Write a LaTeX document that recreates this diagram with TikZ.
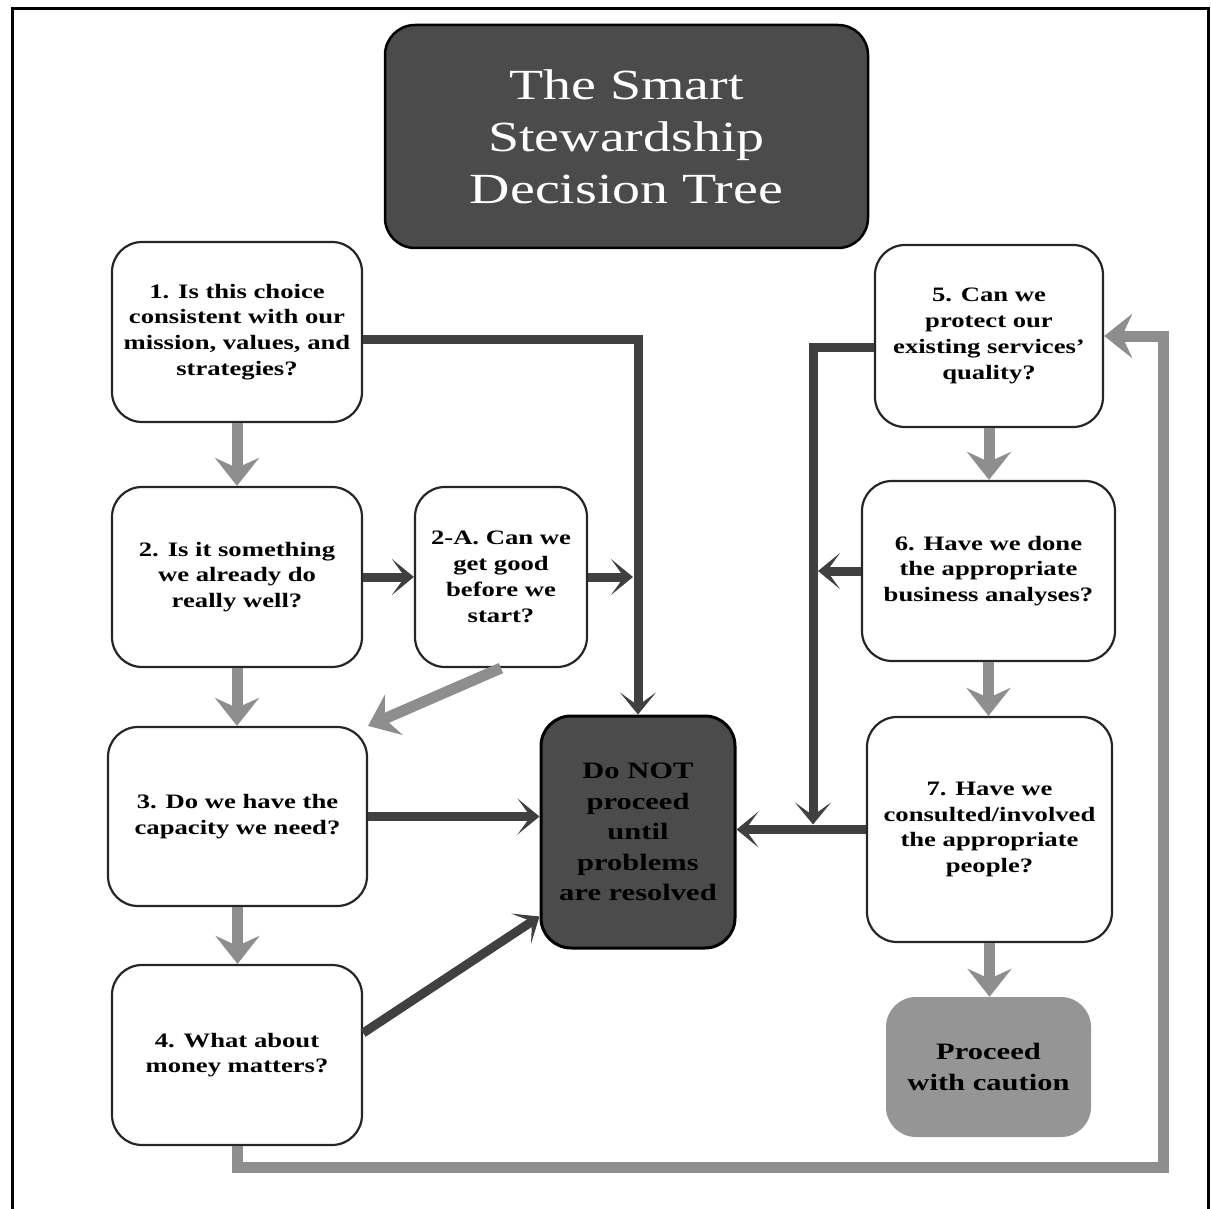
\documentclass[tikz,border=0pt]{standalone}
\usepackage{fontspec}
\setmainfont[FakeStretch=1.3]{Liberation Serif}
\usetikzlibrary{arrows.meta,calc}
\definecolor{boxdark}{HTML}{4B4B4B}
\definecolor{linkdark}{HTML}{404040}
\definecolor{linkgray}{HTML}{8E8E8E}
\definecolor{cautionfill}{HTML}{959595}

\begin{document}
\begin{tikzpicture}[x=1pt,y=-1pt,
  question/.style={draw=black!85, line width=2.2pt, rounded corners=30pt,
    fill=white, align=center, inner sep=0pt,
    font=\bfseries\fontsize{20.5}{25.8}\selectfont},
  titlebox/.style={draw=black, line width=2.5pt, rounded corners=30pt,
    fill=boxdark, text=white, align=center, inner sep=0pt,
    font=\fontsize{43}{52}\selectfont},
  stopbox/.style={draw=black, line width=3pt, rounded corners=30pt,
    fill=boxdark, align=center, inner sep=0pt,
    font=\bfseries\fontsize{23.5}{30.5}\selectfont},
  gobox/.style={draw=none, rounded corners=30pt, fill=cautionfill,
    align=center, inner sep=0pt, font=\bfseries\fontsize{23.5}{31}\selectfont},
  darklink/.style={draw=linkdark, line width=9pt,
    -{Stealth[length=22pt,width=36pt,inset=13pt]}},
  graylink/.style={draw=linkgray, line width=11pt,
    -{Stealth[length=28pt,width=44pt,inset=10pt]}},
]
\useasboundingbox (0,0) rectangle (1211,1209);

% outer frame, open at the bottom
\draw[line width=3pt] (12,1209) -- (12,9) -- (1208,9) -- (1208,1209);

% title
\node[titlebox, minimum width=483pt, minimum height=223pt] (title) at (626.5,136.5)
  {The Smart\\Stewardship\\Decision Tree};

% left column of questions
\node[question, minimum width=250pt, minimum height=180pt] (b1) at (237,332)
  {1. Is this choice\\consistent with our\\mission, values, and\\strategies?};
\node[question, minimum width=250pt, minimum height=180pt] (b2) at (237,577)
  {2. Is it something\\we already do\\really well?};
\node[question, minimum width=172pt, minimum height=180pt] (a2) at (501,577)
  {2-A. Can we\\get good\\before we\\start?};
\node[question, minimum width=259pt, minimum height=179pt] (b3) at (237.5,816.5)
  {3. Do we have the\\capacity we need?};
\node[question, minimum width=250pt, minimum height=180pt] (b4) at (237,1055)
  {4. What about\\money matters?};

% outcome boxes
\node[stopbox, minimum width=194pt, minimum height=232pt] (dn) at (638,832)
  {Do NOT\\proceed\\until\\problems\\are resolved};
\node[gobox, minimum width=205pt, minimum height=140pt] (pc) at (988.5,1067)
  {Proceed\\with caution};

% right column of questions
\node[question, minimum width=228pt, minimum height=182pt] (b5) at (989,336)
  {5. Can we\\protect our\\existing services'\\quality?};
\node[question, minimum width=253pt, minimum height=180pt] (b6) at (988.5,571)
  {6. Have we done\\the appropriate\\business analyses?};
\node[question, minimum width=245pt, minimum height=225pt] (b7) at (989.5,829.5)
  {7. Have we\\consulted/involved\\the appropriate\\people?};

% junction points
\coordinate (j1) at (dn.north |- a2.east);
\coordinate (j2) at (813,829.5);
\coordinate (j3) at (j2 |- b6.west);
\coordinate (loop) at (1163,1167);

% "yes" path, left column
\draw[graylink] (b1.south) -- (b2.north);
\draw[graylink] (b2.south) -- (b2.south |- b3.north);
\draw[graylink] (b3.south) -- (b3.south |- b4.north);
\draw[graylink] (a2.south) -- (b3.north east);
\draw[graylink] (b4.south) |- (loop) |- (b5.east);

% "no" paths, left column
\draw[darklink] ([yshift=-7pt]b1.east) -| (dn.north);
\draw[darklink] (b2.east) -- (a2.west);
\draw[darklink] (a2.east) -- ([xshift=-5pt]j1);
\draw[darklink] (b3.east) -- (b3.east -| dn.west);
\draw[darklink] ([yshift=22pt]b4.east) -- ([yshift=33pt]dn.south west);

% "yes" path, right column
\draw[graylink] (b5.south) -- (b5.south |- b6.north);
\draw[graylink] (b6.south) -- (b6.south |- b7.north);
\draw[graylink] (b7.south) -- (b7.south |- pc.north);

% "no" paths, right column
\draw[darklink] ([yshift=-11pt]b5.west) -| ([yshift=5pt]j2);
\draw[darklink] (b6.west) -- ([xshift=5pt]j3);
\draw[darklink] (b7.west) -- (b7.west -| dn.east);
\end{tikzpicture}
\end{document}
